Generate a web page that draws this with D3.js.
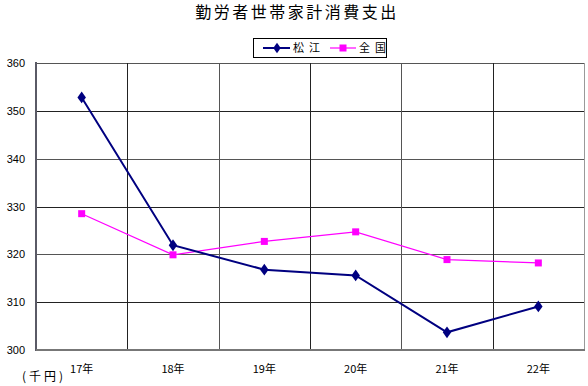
<!DOCTYPE html>
<html><head><meta charset="utf-8">
<script src="https://cdn.jsdelivr.net/npm/d3@7"></script>
<style>body{margin:0;background:#fff}svg{display:block}</style>
</head><body>
<script>
const categories = ["17年","18年","19年","20年","21年","22年"];
const matsue = [352.8, 321.9, 316.8, 315.6, 303.7, 309.1];
const zenkoku = [328.5, 319.9, 322.7, 324.7, 318.9, 318.2];
const yTicks = [300,310,320,330,340,350,360];
const seriesNames = ["松江","全国"];
const title = "勤労者世帯家計消費支出";
const unitLabel = "(千円)";

(function(){
const W=588,H=386;
const pL=36,pR=584,pT=63,pB=350;
const svg=d3.select("body").append("svg").attr("width",W).attr("height",H);
const x=d3.scaleBand().domain(categories).range([pL,pR]);
const y=d3.scaleLinear().domain([300,360]).range([pB,pT]);
const jp="'Noto Sans CJK JP','DejaVu Sans',sans-serif";
const num="'Liberation Sans',Arial,sans-serif";

svg.append("text").attr("x",297).attr("y",18).attr("text-anchor","middle")
  .attr("font-family",jp).attr("font-size",16).attr("letter-spacing",2.5).text(title);

const g=svg.append("g");
g.selectAll(".h").data(yTicks.filter(d=>d>300)).join("line")
  .attr("x1",pL).attr("x2",pR).attr("y1",d=>Math.round(y(d))+0.5).attr("y2",d=>Math.round(y(d))+0.5)
  .attr("stroke",(d,i)=>i%2? "#555":"#222").attr("stroke-width",1);
g.selectAll(".v").data(categories.slice(1)).join("line")
  .attr("x1",d=>Math.round(x(d))+0.5).attr("x2",d=>Math.round(x(d))+0.5).attr("y1",pT).attr("y2",pB)
  .attr("stroke",(d,i)=>i%2? "#555":"#222").attr("stroke-width",1);
svg.append("line").attr("x1",pR+0.5).attr("x2",pR+0.5).attr("y1",pT).attr("y2",pB).attr("stroke","#999");
svg.append("line").attr("x1",pL).attr("x2",pL).attr("y1",pT-1).attr("y2",pB+1).attr("stroke","#5a5a66").attr("stroke-width",2);
svg.append("line").attr("x1",pL).attr("x2",pR+1).attr("y1",pB).attr("y2",pB).attr("stroke","#777").attr("stroke-width",2);

svg.selectAll(".yl").data(yTicks).join("text")
  .attr("x",25).attr("y",d=>y(d)+4).attr("text-anchor","end")
  .attr("font-family",num).attr("font-size",11).text(d=>d);
svg.selectAll(".xl").data(categories).join("text")
  .attr("x",d=>x(d)+x.bandwidth()/2).attr("y",373).attr("text-anchor","middle")
  .attr("font-family",jp).attr("font-size",11).text(d=>d);
svg.append("text").attr("x",22).attr("y",381)
  .attr("font-family",jp).attr("font-size",12).attr("letter-spacing",3).text(unitLabel);

const cx=d=>x(d)+x.bandwidth()/2;
const line=d3.line().x((d,i)=>cx(categories[i])).y(d=>y(d));
svg.append("path").attr("d",line(zenkoku)).attr("fill","none").attr("stroke","#ff00ff").attr("stroke-width",1.2);
svg.selectAll(".sq").data(zenkoku).join("rect")
  .attr("x",(d,i)=>cx(categories[i])-3.5).attr("y",d=>y(d)-3.5).attr("width",7).attr("height",7).attr("fill","#ff00ff");
svg.append("path").attr("d",line(matsue)).attr("fill","none").attr("stroke","#000080").attr("stroke-width",2);
const dia=d3.symbol().type(d3.symbolDiamond).size(40);
svg.selectAll(".dm").data(matsue).join("path")
  .attr("d",dia).attr("transform",(d,i)=>`translate(${cx(categories[i])},${y(d)}) scale(1.25,1)`).attr("fill","#000080");

const lg=svg.append("g");
lg.append("rect").attr("x",253.5).attr("y",38.5).attr("width",133).attr("height",19).attr("fill","#fff").attr("stroke","#000");
lg.append("line").attr("x1",263).attr("x2",290).attr("y1",48).attr("y2",48).attr("stroke","#000080").attr("stroke-width",2);
lg.append("path").attr("d",dia).attr("transform","translate(277,48) scale(1.1,0.9)").attr("fill","#000080");
lg.append("text").attr("x",293).attr("y",52).attr("font-family",jp).attr("font-size",11).attr("letter-spacing",5).text(seriesNames[0]);
lg.append("line").attr("x1",330).attr("x2",356).attr("y1",48).attr("y2",48).attr("stroke","#ff00ff").attr("stroke-width",1.2);
lg.append("rect").attr("x",339.5).attr("y",44.5).attr("width",7).attr("height",7).attr("fill","#ff00ff");
lg.append("text").attr("x",359).attr("y",52).attr("font-family",jp).attr("font-size",11).attr("letter-spacing",5).text(seriesNames[1]);
})();
</script>
</body></html>
